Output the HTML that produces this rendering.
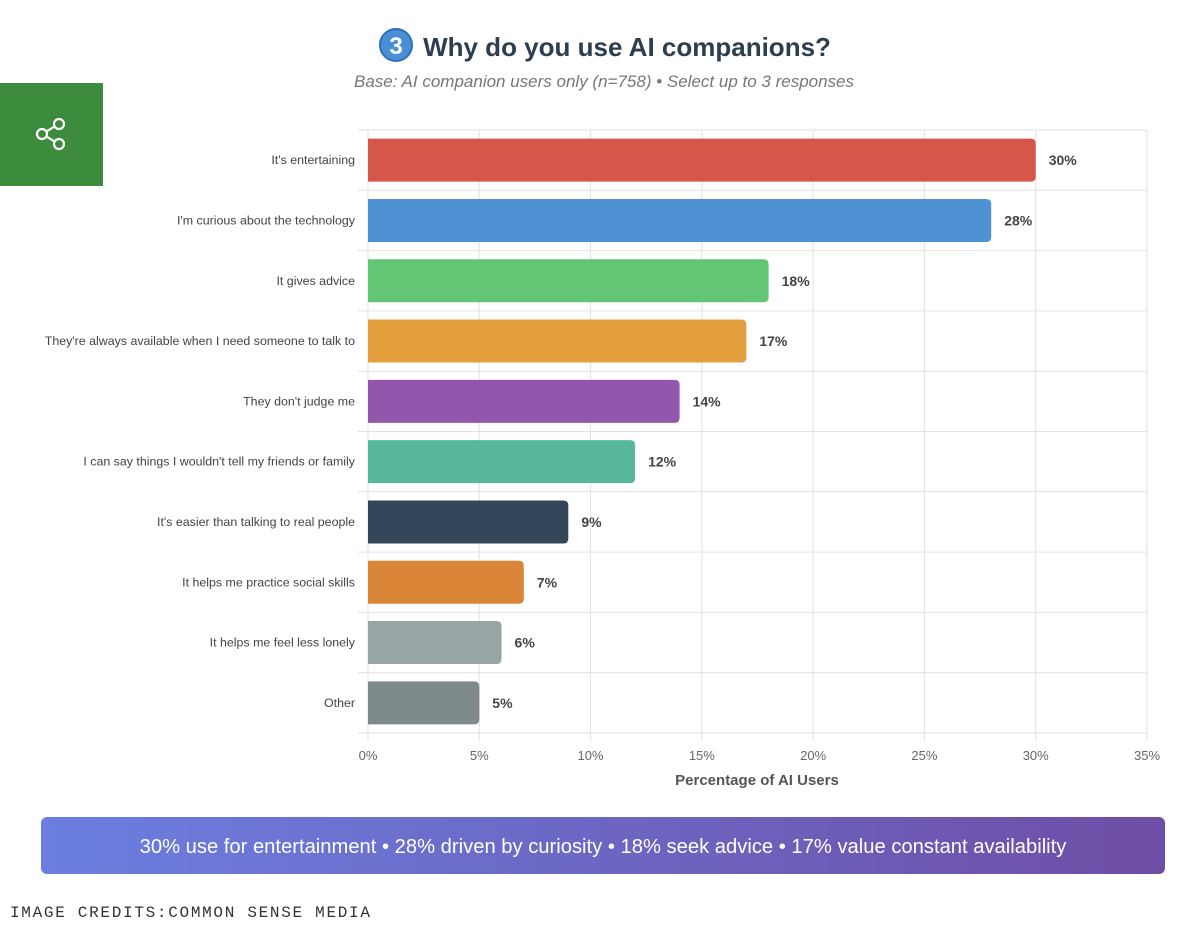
<!DOCTYPE html>
<html><head><meta charset="utf-8">
<style>
body{margin:0;width:1200px;height:935px;background:#fff;font-family:"Liberation Sans",sans-serif;position:relative;overflow:hidden}
#title{position:absolute;top:28px;left:0;width:1210px;text-align:center;font-size:26px;font-weight:bold;color:#2c3e50}
#num{display:inline-block;width:34px;height:34px;border-radius:50%;background:#4a8fd6;color:#fff;font-size:24px;line-height:34px;text-align:center;vertical-align:2px;margin-right:10px;border:2px solid #2f6fb5;box-sizing:border-box}
#sub{position:absolute;top:72px;left:0;width:1208px;text-align:center;font-size:17px;font-style:italic;color:#777}
#share{position:absolute;left:0;top:83px;width:103px;height:103px;background:#3d8b3d}
#banner{position:absolute;left:41px;top:817px;width:1124px;height:57px;border-radius:6px;background:linear-gradient(90deg,#6b7fe0,#6e4ea6);color:#fff;font-size:20.2px;text-align:center;line-height:60px}
#credit{position:absolute;left:10px;top:904px;font-family:"Liberation Mono",monospace;font-size:16px;color:#333;letter-spacing:1.7px}
</style></head><body>
<div id="share">
<svg width="103" height="103"><g stroke="#fff" stroke-width="2.2" fill="none"><circle cx="59" cy="41" r="5"/><circle cx="42" cy="51" r="5"/><circle cx="59" cy="61" r="5"/><line x1="46.5" y1="48.5" x2="54.5" y2="43.5"/><line x1="46.5" y1="53.5" x2="54.5" y2="58.5"/></g></svg>
</div>
<div id="title"><span id="num">3</span>Why do you use AI companions?</div>
<div id="sub">Base: AI companion users only (n=758) • Select up to 3 responses</div>
<svg id="chart" width="1200" height="800" style="position:absolute;left:0;top:0"></svg>
<div id="banner">30% use for entertainment • 28% driven by curiosity • 18% seek advice • 17% value constant availability</div>
<div id="credit">IMAGE CREDITS:COMMON SENSE MEDIA</div>
<script>
const categories=["It's entertaining","I'm curious about the technology","It gives advice","They're always available when I need someone to talk to","They don't judge me","I can say things I wouldn't tell my friends or family","It's easier than talking to real people","It helps me practice social skills","It helps me feel less lonely","Other"];
const values=[30,28,18,17,14,12,9,7,6,5];
const colors=["#d4574a","#4e92d4","#62c674","#e3a03c","#9257ad","#58b89e","#34465a","#da8538","#97a5a4","#7f8b8a"];
const ticks=[0,5,10,15,20,25,30,35];
const svg=document.getElementById('chart');const NS="http://www.w3.org/2000/svg";
const x0=368,x1=1147,plotTop=130,plotBottom=733,maxV=35;
const xs=v=>x0+(x1-x0)*v/maxV;
const rowH=(plotBottom-plotTop)/categories.length;
function mk(t,a,p){const e=document.createElementNS(NS,t);for(const k in a)e.setAttribute(k,a[k]);(p||svg).appendChild(e);return e;}
ticks.forEach(t=>{const g=mk('line',{x1:xs(t),x2:xs(t),y1:plotTop,y2:plotBottom+8,stroke:'#e2e2e2','stroke-width':1});


const l=mk('text',{x:xs(t),y:760,'text-anchor':'middle','font-size':13,fill:'#666'});l.textContent=t+'%';

});
for(let i=0;i<=categories.length;i++){const g=mk('line',{x1:358,x2:x1,y1:plotTop+i*rowH,y2:plotTop+i*rowH,stroke:'#e2e2e2','stroke-width':1});

}
categories.forEach((c,i)=>{const cy=plotTop+(i+0.5)*rowH,h=43,w=xs(values[i])-x0,r=5;
const p=mk('path',{d:`M${x0},${cy-h/2}H${x0+w-r}Q${x0+w},${cy-h/2} ${x0+w},${cy-h/2+r}V${cy+h/2-r}Q${x0+w},${cy+h/2} ${x0+w-r},${cy+h/2}H${x0}Z`,fill:colors[i]});


const l=mk('text',{x:355,y:cy+4,'text-anchor':'end','font-size':12.4,fill:'#444'});l.textContent=c;


const v=mk('text',{x:xs(values[i])+13,y:cy+5,'font-size':14,'font-weight':'bold',fill:'#444'});v.textContent=values[i]+'%';

});
const at=mk('text',{x:757,y:785,'text-anchor':'middle','font-size':15,'font-weight':'bold',fill:'#555'});at.textContent='Percentage of AI Users';


</script>
</body></html>
